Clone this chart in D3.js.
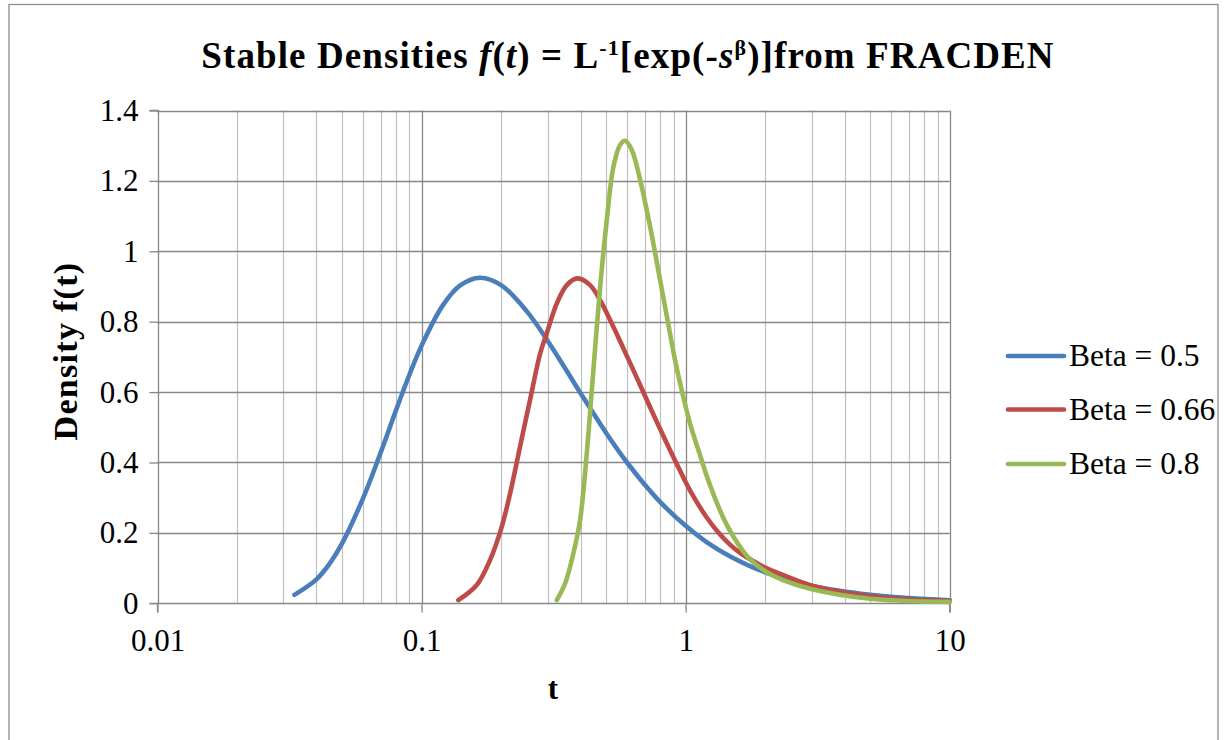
<!DOCTYPE html>
<html>
<head>
<meta charset="utf-8">
<script src="https://cdn.jsdelivr.net/npm/d3@7"></script>
<style>
  html, body { margin: 0; padding: 0; background: #fff; }
  svg { display: block; }
  text { font-family: "Liberation Serif", "DejaVu Serif", serif; fill: #000; }
</style>
</head>
<body>
<svg id="chart" width="1225" height="740"></svg>
<script>
// ---- data ----
const seriesNames = ["Beta = 0.5", "Beta = 0.66", "Beta = 0.8"];
const seriesColors = ["#4A7EBB", "#BE4B48", "#98B954"];

const tBeta05 = [0.033, 0.04, 0.045, 0.05, 0.06, 0.07, 0.08, 0.09, 0.1, 0.12, 0.14, 0.1667, 0.2, 0.25, 0.3, 0.35, 0.4, 0.5, 0.6, 0.7, 0.8, 1.0, 1.2, 1.5, 2, 3, 5, 7, 10];
const fBeta05 = [0.024, 0.068, 0.114, 0.170, 0.298, 0.428, 0.548, 0.650, 0.732, 0.845, 0.903, 0.925, 0.904, 0.830, 0.746, 0.667, 0.597, 0.484, 0.400, 0.337, 0.288, 0.220, 0.174, 0.130, 0.088, 0.050, 0.024, 0.0147, 0.0087];

const tBeta066 = [0.1378, 0.1618, 0.1817, 0.2013, 0.2164, 0.236, 0.2576, 0.2811, 0.2979, 0.3252, 0.3548, 0.3893, 0.4348, 0.4745, 0.5176, 0.5813, 0.6724, 0.7336, 0.8006, 0.8991, 0.981, 1.0399, 1.1348, 1.2171, 1.3134, 1.4115, 1.5176, 1.6328, 1.7548, 2.0305, 2.3474, 3.0063, 5.0, 7.0, 10];
const fBeta066 = [0.009, 0.052, 0.123, 0.218, 0.312, 0.445, 0.578, 0.709, 0.767, 0.852, 0.904, 0.923, 0.904, 0.861, 0.805, 0.724, 0.620, 0.557, 0.495, 0.415, 0.357, 0.320, 0.272, 0.238, 0.206, 0.180, 0.158, 0.140, 0.125, 0.099, 0.080, 0.050, 0.020, 0.011, 0.007];

const tBeta08 = [0.3252, 0.3498, 0.3758, 0.3985, 0.4223, 0.4474, 0.4745, 0.5029, 0.5328, 0.5647, 0.59, 0.6253, 0.6724, 0.7336, 0.8006, 0.8563, 0.9124, 0.981, 1.0399, 1.1348, 1.2171, 1.3134, 1.4115, 1.5176, 1.6328, 1.7548, 2.0305, 2.3474, 3.0063, 5.0, 10];
const fBeta08 = [0.009, 0.057, 0.142, 0.237, 0.426, 0.663, 0.899, 1.089, 1.240, 1.302, 1.314, 1.288, 1.203, 1.070, 0.918, 0.800, 0.690, 0.585, 0.510, 0.420, 0.350, 0.285, 0.232, 0.189, 0.153, 0.125, 0.088, 0.065, 0.040, 0.013, 0.004];

const yTicks = [0, 0.2, 0.4, 0.6, 0.8, 1, 1.2, 1.4];
const yTickLabels = ["0", "0.2", "0.4", "0.6", "0.8", "1", "1.2", "1.4"];
const xTicks = [0.01, 0.1, 1, 10];
const xTickLabels = ["0.01", "0.1", "1", "10"];

// ---- drawing ----
const svg = d3.select("#chart");
const plot = { left: 157.5, right: 949.7, top: 110.5, bottom: 603.3 };

const x = d3.scaleLog().domain([0.01, 10]).range([plot.left, plot.right]);
const y = d3.scaleLinear().domain([0, 1.4]).range([plot.bottom, plot.top]);

// outer border
svg.append("rect").attr("x", 9).attr("y", 4.5).attr("width", 1209).attr("height", 760)
  .attr("fill", "#fff").attr("stroke", "#8c8c8c").attr("stroke-width", 1.3);

// minor vertical gridlines
const minor = [];
[0.01, 0.1, 1].forEach(d => { for (let k = 2; k <= 9; k++) minor.push(d * k); });
svg.append("g").selectAll("line").data(minor).join("line")
  .attr("x1", d => Math.round(x(d)) + 0.5).attr("x2", d => Math.round(x(d)) + 0.5)
  .attr("y1", plot.top).attr("y2", plot.bottom)
  .attr("stroke", "#c0c0c0").attr("stroke-width", 1.2);

// major vertical gridlines
svg.append("g").selectAll("line").data(xTicks.slice(1)).join("line")
  .attr("x1", d => Math.round(x(d)) + 0.5).attr("x2", d => Math.round(x(d)) + 0.5)
  .attr("y1", plot.top).attr("y2", plot.bottom)
  .attr("stroke", "#878787").attr("stroke-width", 1.3);

// horizontal gridlines
svg.append("g").selectAll("line").data(yTicks.slice(1)).join("line")
  .attr("x1", plot.left).attr("x2", plot.right)
  .attr("y1", d => Math.round(y(d)) + 0.5).attr("y2", d => Math.round(y(d)) + 0.5)
  .attr("stroke", "#878787").attr("stroke-width", 1.3);

// axes
const yAxis = d3.axisLeft(y).tickValues(yTicks).tickFormat((d, i) => yTickLabels[i]).tickSize(9).tickPadding(11);
const gy = svg.append("g").attr("transform", `translate(${Math.round(plot.left) + 0.5},0)`).call(yAxis);
const xAxis = d3.axisBottom(x).tickValues(xTicks).tickFormat((d, i) => xTickLabels[i]).tickSize(9).tickPadding(16);
const gx = svg.append("g").attr("transform", `translate(0,${Math.round(plot.bottom) + 0.5})`).call(xAxis);
[gx, gy].forEach(g => {
  g.select(".domain").attr("stroke", "#878787").attr("stroke-width", 1.3);
  g.selectAll(".tick line").attr("stroke", "#878787").attr("stroke-width", 1.3);
  g.selectAll(".tick text").attr("font-family", "Liberation Serif").attr("font-size", 31).attr("fill", "#000");
});
gx.select(".domain").attr("d", `M${plot.left},9V0H${plot.right}V9`);
gy.select(".domain").attr("d", `M-9,${plot.top}H0V${plot.bottom}H-9`);

// series lines
const series = [
  { name: seriesNames[0], color: seriesColors[0], t: tBeta05, f: fBeta05 },
  { name: seriesNames[1], color: seriesColors[1], t: tBeta066, f: fBeta066 },
  { name: seriesNames[2], color: seriesColors[2], t: tBeta08, f: fBeta08 }
];
const line = d3.line().x(d => x(d[0])).y(d => y(d[1])).curve(d3.curveCatmullRom.alpha(0.5));
series.forEach(s => {
  svg.append("path").datum(s.t.map((t, i) => [t, s.f[i]]))
    .attr("d", line).attr("fill", "none").attr("stroke", s.color)
    .attr("stroke-width", 4.6).attr("stroke-linecap", "round").attr("stroke-linejoin", "round");
});

// title
const title = svg.append("text").attr("x", 628).attr("y", 68).attr("text-anchor", "middle")
  .attr("font-weight", "bold").attr("font-size", 37).attr("letter-spacing", 1.1);
title.append("tspan").text("Stable Densities ");
title.append("tspan").attr("font-style", "italic").text("f");
title.append("tspan").text("(");
title.append("tspan").attr("font-style", "italic").text("t");
title.append("tspan").text(") = L");
title.append("tspan").attr("font-size", 22).attr("dy", -13).text("-1");
title.append("tspan").attr("dy", 13).text("[exp(-");
title.append("tspan").attr("font-style", "italic").text("s");
title.append("tspan").attr("font-size", 22).attr("dy", -13).text("β");
title.append("tspan").attr("dy", 13).text(")]from FRACDEN");

// axis titles
svg.append("text").attr("transform", "translate(77,351) rotate(-90)").attr("text-anchor", "middle")
  .attr("font-weight", "bold").attr("font-size", 34).attr("letter-spacing", 1.3).text("Density f(t)");
svg.append("text").attr("x", 553).attr("y", 699).attr("text-anchor", "middle")
  .attr("font-weight", "bold").attr("font-size", 31).text("t");

// legend
const lg = svg.append("g");
const legendY = [356, 409.5, 464];
series.forEach((s, i) => {
  lg.append("line").attr("x1", 1008).attr("x2", 1064).attr("y1", legendY[i]).attr("y2", legendY[i])
    .attr("stroke", s.color).attr("stroke-width", 4.6).attr("stroke-linecap", "round");
  lg.append("text").attr("x", 1069).attr("y", legendY[i] + 10).attr("font-size", 31.5).text(s.name);
});
</script>
</body>
</html>
